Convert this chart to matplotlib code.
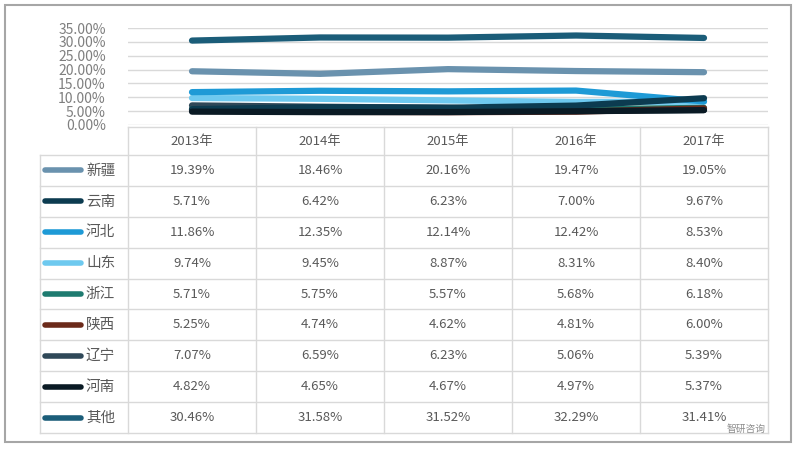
import numpy as np
import matplotlib.pyplot as plt

plt.rcParams['font.family'] = ['Noto Sans CJK SC', 'DejaVu Sans']

years = ["2013年", "2014年", "2015年", "2016年", "2017年"]
regions = ["新疆", "云南", "河北", "山东", "浙江", "陕西", "辽宁", "河南", "其他"]
xinjiang = [19.39, 18.46, 20.16, 19.47, 19.05]
yunnan = [5.71, 6.42, 6.23, 7.00, 9.67]
hebei = [11.86, 12.35, 12.14, 12.42, 8.53]
shandong = [9.74, 9.45, 8.87, 8.31, 8.40]
zhejiang = [5.71, 5.75, 5.57, 5.68, 6.18]
shaanxi = [5.25, 4.74, 4.62, 4.81, 6.00]
liaoning = [7.07, 6.59, 6.23, 5.06, 5.39]
henan = [4.82, 4.65, 4.67, 4.97, 5.37]
qita = [30.46, 31.58, 31.52, 32.29, 31.41]

series = [xinjiang, yunnan, hebei, shandong, zhejiang, shaanxi, liaoning, henan, qita]
colors = ["#6a92ae", "#0c3b50", "#1e9ad6", "#6ec9ef", "#1e7b70",
          "#6b2a1a", "#2f4858", "#0a1a24", "#1b5d79"]

W, H = 797, 450
fig = plt.figure(figsize=(W / 100, H / 100), dpi=100)

def fx(px):
    return px / W

def fy(py):
    return 1 - py / H

# canvas in pixel coords for frame + table
bg = fig.add_axes([0, 0, 1, 1])
bg.set_xlim(0, W)
bg.set_ylim(H, 0)
bg.axis("off")
bg.add_patch(plt.Rectangle((5, 5), 786, 437, fill=False, ec="#a6a6a6", lw=1.5))

# line chart
col_l, col_r = 128, 768
top, bot = 28, 125
ax = fig.add_axes([fx(col_l), fy(bot), fx(col_r - col_l), (bot - top) / H])
x = np.arange(len(years))
ax.set_xlim(-0.5, len(years) - 0.5)
ax.set_ylim(0, 35)
ax.set_yticks(np.arange(0, 36, 5))
ax.set_yticklabels(["%.2f%%" % v for v in np.arange(0, 36, 5)])
ax.tick_params(axis="y", length=0, labelsize=10, labelcolor="#7f7f7f", pad=16)
ax.set_xticks([])
ax.grid(axis="y", color="#d9d9d9", lw=1)
for s in ax.spines.values():
    s.set_visible(False)
order = [0, 8, 3, 2, 6, 4, 5, 1, 7]
for i in order:
    ax.plot(x, series[i], color=colors[i], lw=4.5, solid_capstyle="round", zorder=3)

# data table
row_top = 155
row_h = (433 - row_top) / len(regions)
leg_l = 40
col_w = (col_r - col_l) / len(years)
grid_c = "#d9d9d9"
txt_c = "#595959"

bg.plot([col_l, col_r], [127, 127], color=grid_c, lw=1)
for j, yr in enumerate(years):
    bg.text(col_l + (j + 0.5) * col_w, (127 + row_top) / 2, yr, ha="center",
            va="center", fontsize=9.5, color=txt_c)
for j in range(len(years) + 1):
    bg.plot([col_l + j * col_w] * 2, [127, 433], color=grid_c, lw=1)
bg.plot([leg_l, leg_l], [row_top, 433], color=grid_c, lw=1)
for k in range(len(regions) + 1):
    yy = row_top + k * row_h
    bg.plot([leg_l, col_r], [yy, yy], color=grid_c, lw=1)

for k, (name, vals) in enumerate(zip(regions, series)):
    yc = row_top + (k + 0.5) * row_h
    bg.plot([45, 81], [yc, yc], color=colors[k], lw=4, solid_capstyle="round")
    bg.text(86, yc, name, ha="left", va="center", fontsize=10.5, color=txt_c)
    for j, v in enumerate(vals):
        bg.text(col_l + (j + 0.5) * col_w, yc, "%.2f%%" % v, ha="center",
                va="center", fontsize=9.5, color=txt_c)

# watermark
bg.text(766, 429, "智研咨询", ha="right", va="center", fontsize=7, color="#8c8c8c")

fig.savefig("out.png", dpi=100)
